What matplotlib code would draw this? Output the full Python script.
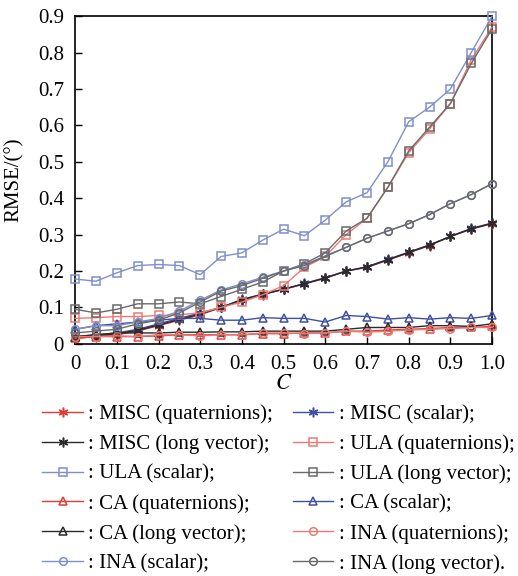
import matplotlib.pyplot as plt
from matplotlib.ticker import FixedLocator

plt.rcParams['font.family'] = ['Liberation Serif', 'DejaVu Serif']
plt.rcParams['mathtext.fontset'] = 'stix'

C = [0, 0.05, 0.1, 0.15, 0.2, 0.25, 0.3, 0.35, 0.4, 0.45, 0.5,
     0.55, 0.6, 0.65, 0.7, 0.75, 0.8, 0.85, 0.9, 0.95, 1.0]

misc_quat = [0.015, 0.02, 0.025, 0.035, 0.05, 0.065, 0.08, 0.1, 0.12, 0.135, 0.15,
             0.165, 0.18, 0.2, 0.21, 0.23, 0.25, 0.27, 0.295, 0.315, 0.33]
misc_scal = [0.02, 0.025, 0.03, 0.04, 0.055, 0.07, 0.085, 0.1, 0.122, 0.137, 0.15,
             0.166, 0.182, 0.2, 0.212, 0.232, 0.252, 0.272, 0.295, 0.317, 0.332]
misc_long = [0.018, 0.022, 0.028, 0.037, 0.052, 0.067, 0.082, 0.1, 0.121, 0.136, 0.15,
             0.165, 0.181, 0.2, 0.211, 0.231, 0.251, 0.271, 0.295, 0.316, 0.331]
ula_quat = [0.07, 0.072, 0.075, 0.075, 0.078, 0.08, 0.085, 0.1, 0.115, 0.135, 0.16,
            0.21, 0.24, 0.3, 0.345, 0.43, 0.525, 0.59, 0.66, 0.78, 0.87]
ula_scal = [0.178, 0.172, 0.195, 0.215, 0.218, 0.215, 0.19, 0.24, 0.25, 0.285, 0.315,
            0.297, 0.34, 0.39, 0.415, 0.5, 0.61, 0.65, 0.7, 0.8, 0.9]
ula_long = [0.095, 0.085, 0.095, 0.11, 0.11, 0.115, 0.11, 0.13, 0.15, 0.17, 0.2,
            0.22, 0.25, 0.31, 0.345, 0.43, 0.53, 0.595, 0.66, 0.77, 0.865]
ca_quat = [0.015, 0.02, 0.02, 0.02, 0.022, 0.025, 0.025, 0.025, 0.025, 0.028, 0.028,
           0.03, 0.03, 0.035, 0.035, 0.038, 0.04, 0.042, 0.045, 0.045, 0.048]
ca_scal = [0.04, 0.05, 0.055, 0.06, 0.065, 0.07, 0.07, 0.065, 0.065, 0.072, 0.07,
           0.07, 0.06, 0.078, 0.075, 0.068, 0.072, 0.068, 0.072, 0.07, 0.078]
ca_long = [0.02, 0.025, 0.03, 0.03, 0.03, 0.032, 0.032, 0.033, 0.033, 0.035, 0.035,
           0.035, 0.035, 0.04, 0.045, 0.045, 0.045, 0.05, 0.05, 0.048, 0.055]
ina_quat = [0.02, 0.02, 0.022, 0.02, 0.025, 0.025, 0.022, 0.025, 0.025, 0.03, 0.03,
            0.028, 0.03, 0.035, 0.032, 0.035, 0.038, 0.04, 0.042, 0.045, 0.045]
ina_scal = [0.04, 0.05, 0.05, 0.06, 0.07, 0.09, 0.12, 0.148, 0.165, 0.183, 0.2,
            0.217, 0.242, 0.265, 0.29, 0.31, 0.33, 0.355, 0.385, 0.41, 0.44]
ina_long = [0.03, 0.035, 0.04, 0.055, 0.065, 0.085, 0.115, 0.145, 0.16, 0.18, 0.2,
            0.215, 0.24, 0.265, 0.29, 0.31, 0.33, 0.355, 0.385, 0.41, 0.44]

labels = [': MISC (quaternions);', ': MISC (scalar);',
          ': MISC (long vector);', ': ULA (quaternions);',
          ': ULA (scalar);', ': ULA (long vector);',
          ': CA (quaternions);', ': CA (scalar);',
          ': CA (long vector);', ': INA (quaternions);',
          ': INA (scalar);', ': INA (long vector).']

red = '#e03c35'
blue = '#3f4fa3'
black = '#2a2a2a'
pink = '#ec7a74'
lblue = '#7f8fcc'
grey = '#6a6a6a'

series = [misc_quat, misc_scal, misc_long, ula_quat, ula_scal, ula_long,
          ca_quat, ca_scal, ca_long, ina_quat, ina_scal, ina_long]
colors = [red, blue, black, pink, lblue, grey, red, blue, black, pink, lblue, grey]
markers = [(6, 2, 0), (6, 2, 0), (6, 2, 0), 's', 's', 's', '^', '^', '^', 'o', 'o', 'o']

fig = plt.figure(figsize=(5.18, 5.76), dpi=100)
ax = fig.add_axes([0.145, 0.403, 0.805, 0.569])

handles = []
for y, c, m, lab in zip(series, colors, markers, labels):
    ms = 7 if isinstance(m, tuple) else 5.5
    h, = ax.plot(C, y, color=c, marker=m, markersize=ms, markerfacecolor='none',
                 markeredgecolor=c, markeredgewidth=1.1, linewidth=1.0,
                 label=lab, clip_on=False, zorder=3)
    handles.append(h)

ax.set_xlim(0, 1.0)
ax.set_ylim(0, 0.9)
ax.xaxis.set_major_locator(FixedLocator([i / 10 for i in range(11)]))
ax.yaxis.set_major_locator(FixedLocator([i / 10 for i in range(10)]))
ax.set_xticklabels(['0'] + ['%.1f' % (i / 10) for i in range(1, 11)])
ax.set_yticklabels(['0'] + ['%.1f' % (i / 10) for i in range(1, 10)])
ax.tick_params(direction='in', labelsize=15, length=5, width=1, pad=8)
for s in ax.spines.values():
    s.set_linewidth(1.2)

ax.set_xlabel('$C$', fontsize=16, labelpad=1)
ax.set_ylabel('RMSE/(°)', fontsize=15, labelpad=10)

# legend filled row-wise like the reference
order = [0, 2, 4, 6, 8, 10, 1, 3, 5, 7, 9, 11]
fig.legend([handles[i] for i in order], [labels[i] for i in order],
           ncol=2, frameon=False, fontsize=15, loc='upper left',
           bbox_to_anchor=(0.0816, 0.298), handlelength=1.95,
           handletextpad=0.25, columnspacing=0.95, labelspacing=0.49,
           borderpad=0, borderaxespad=0)

fig.savefig('out.png', dpi=100)
